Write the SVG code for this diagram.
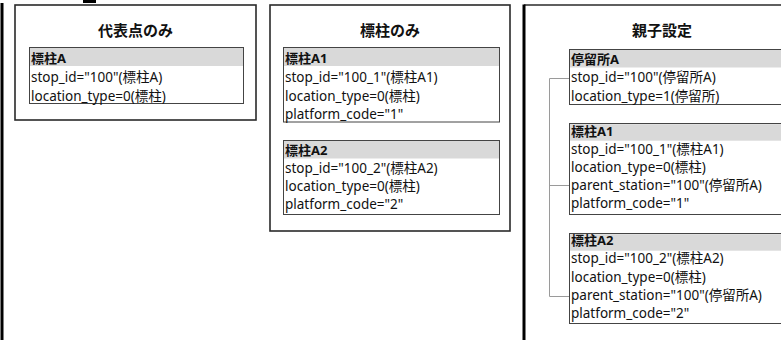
<svg xmlns="http://www.w3.org/2000/svg" width="781" height="340" viewBox="0 0 781 340">
<style>
  text { font-family: "Noto Sans", "Noto Sans CJK JP", sans-serif; fill: #111; }
  .title { font-size: 15px; font-weight: bold; text-anchor: middle; }
  .hdr { font-size: 13px; font-weight: bold; }
  .row { font-size: 13.5px; }
  .panel { fill: #fff; stroke: #2a2a2a; stroke-width: 1.6; }
  .tbl { fill: #fff; stroke: #444; stroke-width: 1; }
  .hbg { fill: #d9d9d9; stroke: none; }
  .edge { fill: none; stroke: #000; stroke-width: 3; }
  .conn { fill: none; stroke: #9a9a9a; stroke-width: 1; }
</style>
<rect x="0" y="0" width="781" height="340" fill="#fff"/>
<rect x="83" y="0" width="13" height="3" fill="#000"/>
<line class="edge" x1="2" y1="3" x2="2" y2="340"/>

<g id="panel1">
  <rect class="panel" x="15" y="5" width="241" height="115"/>
  <text class="title" x="135.5" y="36">代表点のみ</text>
</g>
<g id="stopA">
  <rect class="tbl" x="29.5" y="47.5" width="214" height="56"/>
  <rect class="hbg" x="30" y="48" width="213" height="18"/>
  <text class="hdr" x="31" y="63">標柱A</text>
  <text class="row" x="31" y="82">stop_id="100"(標柱A)</text>
  <text class="row" x="31" y="100.5">location_type=0(標柱)</text>
</g>

<g id="panel2">
  <rect class="panel" x="270" y="5" width="240" height="226"/>
  <text class="title" x="390" y="36">標柱のみ</text>
</g>
<g id="stopA1_p2">
  <rect class="tbl" x="283.5" y="47.5" width="216" height="74.5"/>
  <rect class="hbg" x="284" y="48" width="215" height="18"/>
  <text class="hdr" x="285" y="63">標柱A1</text>
  <text class="row" x="285" y="82">stop_id="100_1"(標柱A1)</text>
  <text class="row" x="285" y="100.5">location_type=0(標柱)</text>
  <text class="row" x="285" y="118.5">platform_code="1"</text>
</g>
<g id="stopA2_p2">
  <rect class="tbl" x="283.5" y="140.5" width="216" height="74"/>
  <rect class="hbg" x="284" y="141" width="215" height="17.5"/>
  <text class="hdr" x="285" y="155">標柱A2</text>
  <text class="row" x="285" y="172.5">stop_id="100_2"(標柱A2)</text>
  <text class="row" x="285" y="190.5">location_type=0(標柱)</text>
  <text class="row" x="285" y="208.5">platform_code="2"</text>
</g>

<g id="panel3">
  <line x1="524" y1="5" x2="781" y2="5" stroke="#2a2a2a" stroke-width="1.6"/>
  <line class="edge" x1="524" y1="4.5" x2="524" y2="340"/>
  <text class="title" x="662" y="36">親子設定</text>
</g>
<g id="stationA">
  <rect class="tbl" x="569.5" y="49.5" width="240" height="55"/>
  <rect class="hbg" x="570" y="50" width="239" height="17.5"/>
  <text class="hdr" x="571" y="63.5">停留所A</text>
  <text class="row" x="571" y="82">stop_id="100"(停留所A)</text>
  <text class="row" x="571" y="101">location_type=1(停留所)</text>
</g>
<g id="stopA1_p3">
  <rect class="tbl" x="569.5" y="123.5" width="240" height="91" stroke-width="1.4"/>
  <rect class="hbg" x="570" y="124.2" width="239" height="16.5"/>
  <text class="hdr" x="571" y="136">標柱A1</text>
  <text class="row" x="571" y="154">stop_id="100_1"(標柱A1)</text>
  <text class="row" x="571" y="172">location_type=0(標柱)</text>
  <text class="row" x="571" y="190">parent_station="100"(停留所A)</text>
  <text class="row" x="571" y="208">platform_code="1"</text>
</g>
<g id="stopA2_p3">
  <rect class="tbl" x="569.5" y="233.5" width="240" height="90" stroke-width="1.4"/>
  <rect class="hbg" x="570" y="234.2" width="239" height="16.5"/>
  <text class="hdr" x="571" y="245">標柱A2</text>
  <text class="row" x="571" y="263">stop_id="100_2"(標柱A2)</text>
  <text class="row" x="571" y="281.5">location_type=0(標柱)</text>
  <text class="row" x="571" y="300">parent_station="100"(停留所A)</text>
  <text class="row" x="571" y="318">platform_code="2"</text>
</g>

<g id="connectors">
  <path class="conn" d="M569,78.5 H549.5 V296.5 H569"/>
  <path class="conn" d="M549.5,185.5 H569"/>
</g>
</svg>
